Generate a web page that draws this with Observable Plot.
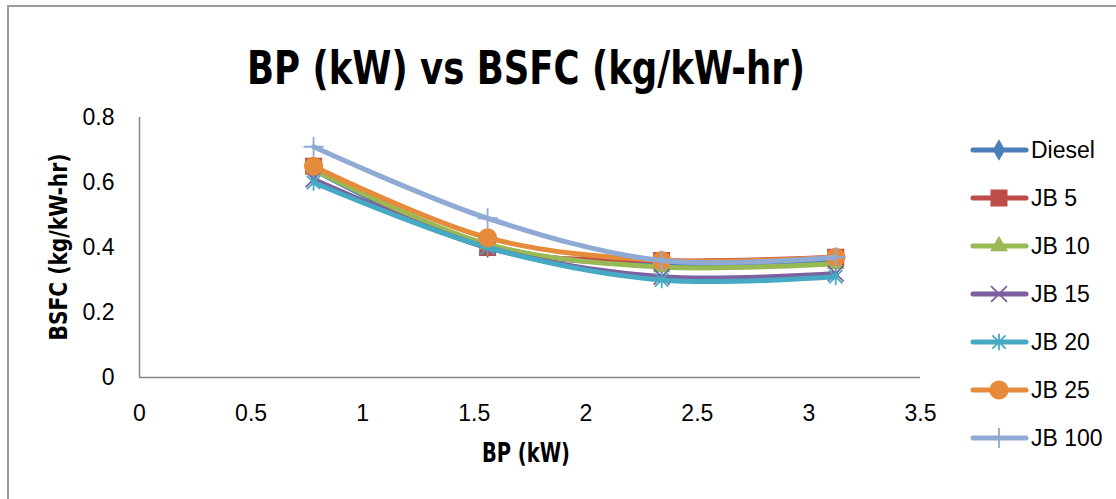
<!DOCTYPE html>
<html><head><meta charset="utf-8">
<script src="https://cdn.jsdelivr.net/npm/d3@7"></script>
<script src="https://cdn.jsdelivr.net/npm/@observablehq/plot@0.6"></script>
<style>
body{margin:0;background:#fff;}
#wrap{position:relative;width:1116px;height:499px;overflow:hidden;background:#fff;}
#wrap svg{position:absolute;left:0;top:0;}
</style></head><body><div id="wrap"></div>
<script>
// ---- data ----
const bp = [0.78, 1.56, 2.34, 3.12];
const seriesNames = ["Diesel", "JB 5", "JB 10", "JB 15", "JB 20", "JB 25", "JB 100"];
const diesel = [0.64, 0.40, 0.35, 0.36];
const jb5    = [0.65, 0.40, 0.36, 0.37];
const jb10   = [0.64, 0.41, 0.34, 0.35];
const jb15   = [0.61, 0.40, 0.31, 0.32];
const jb20   = [0.60, 0.40, 0.30, 0.31];
const jb25   = [0.65, 0.43, 0.36, 0.37];
const jb100  = [0.71, 0.49, 0.36, 0.37];
const xTicks = [0, 0.5, 1, 1.5, 2, 2.5, 3, 3.5];
const yTicks = [0, 0.2, 0.4, 0.6, 0.8];
const titleText = "BP (kW) vs BSFC (kg/kW-hr)";
const xLabel = "BP (kW)";
const yLabel = "BSFC (kg/kW-hr)";

// ---- styles ----
const seriesValues = [diesel, jb5, jb10, jb15, jb20, jb25, jb100];
const colors = ["#4A7EBB", "#BE4B48", "#98B954", "#7D60A0", "#46AAC5", "#E68A3C", "#8FAAD4"];
const excelAsterisk = {draw(ctx, size) {
  const r = Math.sqrt(size / Math.PI), d = r * 0.8;
  ctx.moveTo(0, -r); ctx.lineTo(0, r);
  ctx.moveTo(-d, -d); ctx.lineTo(d, d);
  ctx.moveTo(-d, d); ctx.lineTo(d, -d);
}};
const markerStyle = [
  {symbol: "diamond", d3sym: d3.symbolDiamond, r: 6.5, filled: true},
  {symbol: "square", d3sym: d3.symbolSquare, r: 9.6, filled: true},
  {symbol: "triangle", d3sym: d3.symbolTriangle, r: 6.6, filled: true},
  {symbol: "times", d3sym: d3.symbolTimes, r: 7.3, filled: false},
  {symbol: excelAsterisk, d3sym: excelAsterisk, r: 8.3, filled: false},
  {symbol: "circle", d3sym: d3.symbolCircle, r: 9.6, filled: true},
  {symbol: "plus", d3sym: d3.symbolPlus, r: 6.5, filled: false}
];

const rows = [];
seriesNames.forEach((s, i) => bp.forEach((x, j) => rows.push({series: s, bp: x, bsfc: seriesValues[i][j]})));

const marks = [
  Plot.ruleY([0], {stroke: "#868686", strokeWidth: 1.5}),
  Plot.ruleX([0], {stroke: "#868686", strokeWidth: 1.5})
];
seriesNames.forEach((s, i) => {
  const data = rows.filter(d => d.series === s);
  const m = markerStyle[i];
  marks.push(Plot.line(data, {x: "bp", y: "bsfc", stroke: colors[i], strokeWidth: 5, curve: "catmull-rom", strokeLinecap: "round", strokeLinejoin: "round"}));
  marks.push(Plot.dot(data, m.filled
    ? {x: "bp", y: "bsfc", symbol: m.symbol, r: m.r, fill: colors[i], stroke: "none"}
    : {x: "bp", y: "bsfc", symbol: m.symbol, r: m.r, fill: "none", stroke: colors[i], strokeWidth: 1.8}));
});

const chart = Plot.plot({
  width: 1116, height: 499,
  marginLeft: 139, marginRight: 196, marginTop: 117, marginBottom: 122,
  style: {fontFamily: "'Liberation Sans', Arial, sans-serif", fontSize: "23px", color: "#000", background: "transparent", overflow: "visible"},
  x: {domain: [0, 3.5], ticks: xTicks, tickSize: 0, tickPadding: 27, label: null, tickFormat: d => String(d)},
  y: {domain: [0, 0.8], ticks: yTicks, tickSize: 0, tickPadding: 25, label: null, tickFormat: d => String(+d.toFixed(1))},
  marks
});
const wrap = document.getElementById("wrap");
wrap.appendChild(chart);

// ---- overlay: frame, title, axis titles, legend ----
const narrow = "'Liberation Sans Narrow', 'Arial Narrow', 'DejaVu Sans Condensed', sans-serif";
const ov = d3.select(wrap).append("svg").attr("width", 1116).attr("height", 499)
  .style("font-family", "'Liberation Sans', Arial, sans-serif");
ov.append("path").attr("d", "M8,499V6H1116").attr("fill", "none").attr("stroke", "#9a9a9a").attr("stroke-width", 2);
ov.append("text").attr("x", 526).attr("y", 84).attr("text-anchor", "middle").style("font-family", narrow)
  .attr("font-weight", "bold").attr("font-size", 47).attr("textLength", 558).attr("lengthAdjust", "spacingAndGlyphs")
  .text(titleText);
ov.append("text").attr("x", 526).attr("y", 462).attr("text-anchor", "middle").style("font-family", narrow)
  .attr("font-weight", "bold").attr("font-size", 26).attr("textLength", 88).attr("lengthAdjust", "spacingAndGlyphs").text(xLabel);
ov.append("text").attr("transform", "translate(67,247) rotate(-90)").attr("text-anchor", "middle").style("font-family", narrow)
  .attr("font-weight", "bold").attr("font-size", 25).attr("textLength", 187).attr("lengthAdjust", "spacingAndGlyphs")
  .text(yLabel);
seriesNames.forEach((s, i) => {
  const g = ov.append("g").attr("transform", `translate(0,${150 + i * 48})`);
  g.append("line").attr("x1", 973).attr("x2", 1026).attr("y1", 0).attr("y2", 0)
    .attr("stroke", colors[i]).attr("stroke-width", 5).attr("stroke-linecap", "round");
  const m = markerStyle[i];
  const p = g.append("path").attr("transform", "translate(999,0)")
    .attr("d", d3.symbol(m.d3sym, Math.PI * m.r * m.r)());
  if (m.filled) p.attr("fill", colors[i]);
  else p.attr("fill", "none").attr("stroke", colors[i]).attr("stroke-width", 1.8);
  g.append("text").attr("x", 1031).attr("y", 8).attr("font-size", 23).attr("fill", "#000").text(s);
});
</script></body></html>
